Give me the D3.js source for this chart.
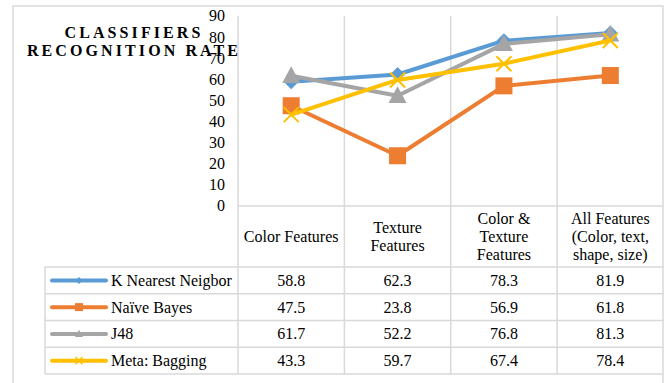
<!DOCTYPE html>
<html><head><meta charset="utf-8">
<script src="https://cdn.jsdelivr.net/npm/d3@7"></script>
<style>
html,body{margin:0;padding:0;background:#fff;}
svg{display:block;font-family:"Liberation Serif","Times New Roman",serif;}
</style></head>
<body><svg id="c" width="666" height="383"></svg>
<script>
const categories = ["Color Features", "Texture Features", "Color & Texture Features", "All Features (Color, text, shape, size)"];
const categoryLines = [["Color Features"], ["Texture", "Features"], ["Color &", "Texture", "Features"], ["All Features", "(Color, text,", "shape, size)"]];
const seriesNames = ["K Nearest Neigbor", "Naïve Bayes", "J48", "Meta: Bagging"];
const knn = [58.8, 62.3, 78.3, 81.9];
const naiveBayes = [47.5, 23.8, 56.9, 61.8];
const j48 = [61.7, 52.2, 76.8, 81.3];
const metaBagging = [43.3, 59.7, 67.4, 78.4];
const seriesColors = ["#5B9BD5", "#ED7D31", "#A5A5A5", "#FFC000"];
const seriesMarkers = ["diamond", "square", "triangle", "x"];
const yTicks = [0, 10, 20, 30, 40, 50, 60, 70, 80, 90];
const titleLines = ["CLASSIFIERS", "RECOGNITION RATE"];

const series = [knn, naiveBayes, j48, metaBagging].map((v, i) => ({
  name: seriesNames[i], values: v, color: seriesColors[i], marker: seriesMarkers[i]
}));

const svg = d3.select("#c");
const grid = "#D9D9D9";
const plotL = 238, plotR = 663.5, plotT = 16, plotB = 206;
const headerB = 267, rowH = 26.75, tableL = 45;
const tableB = headerB + rowH * series.length;

const x = d3.scaleBand().domain(categories).range([plotL, plotR]).padding(0);
const y = d3.scaleLinear().domain([0, 90]).range([plotB, plotT]);

// outer frame
svg.append("path").attr("d", `M13,383 V6 H663 V383`).attr("fill", "none").attr("stroke", grid).attr("stroke-width", 1.5);

// vertical separators (axis + category boundaries)
const gL = svg.append("g").attr("stroke", grid).attr("stroke-width", 1.5);
categories.forEach((c, i) => {
  if (i === 0) gL.append("line").attr("x1", x(c)).attr("x2", x(c)).attr("y1", plotT).attr("y2", tableB);
  else gL.append("line").attr("x1", x(c)).attr("x2", x(c)).attr("y1", plotT).attr("y2", tableB);
});
gL.append("line").attr("x1", tableL).attr("x2", tableL).attr("y1", headerB).attr("y2", tableB);
// horizontal lines
gL.append("line").attr("x1", plotL).attr("x2", plotR).attr("y1", plotB).attr("y2", plotB);
for (let r = 0; r <= series.length; r++) {
  const yy = headerB + r * rowH;
  gL.append("line").attr("x1", tableL).attr("x2", plotR).attr("y1", yy).attr("y2", yy);
}

// y tick labels
svg.append("g").selectAll("text").data(yTicks).join("text")
  .attr("x", 225).attr("y", d => y(d)).attr("dy", "0.34em")
  .attr("text-anchor", "end").attr("font-size", 16).attr("fill", "#000").text(d => d);

// title
svg.append("g").selectAll("text").data(titleLines).join("text")
  .attr("x", 134).attr("y", (d, i) => 38 + i * 18)
  .attr("text-anchor", "middle").attr("font-size", 16).attr("font-weight", "bold")
  .attr("letter-spacing", 3.1).attr("fill", "#000").text(d => d);

// header text
categories.forEach((c, i) => {
  const lines = categoryLines[i];
  const cx = x(c) + x.bandwidth() / 2;
  const cy = (plotB + headerB) / 2;
  const lh = 17.6;
  lines.forEach((t, j) => {
    svg.append("text").attr("x", cx).attr("y", cy + (j - (lines.length - 1) / 2) * lh)
      .attr("dy", "0.34em").attr("text-anchor", "middle").attr("font-size", 16).attr("fill", "#000").text(t);
  });
});

function marker(g, type, cx, cy, s, color) {
  if (type === "diamond") {
    g.append("path").attr("d", `M${cx},${cy - s} L${cx + s},${cy} L${cx},${cy + s} L${cx - s},${cy} Z`).attr("fill", color);
  } else if (type === "square") {
    g.append("rect").attr("x", cx - s).attr("y", cy - s).attr("width", 2 * s).attr("height", 2 * s).attr("fill", color);
  } else if (type === "triangle") {
    g.append("path").attr("d", `M${cx},${cy - s * 1.05} L${cx + s},${cy + s * 0.8} L${cx - s},${cy + s * 0.8} Z`).attr("fill", color);
  } else {
    g.append("path").attr("d", `M${cx - s},${cy - s} L${cx + s},${cy + s} M${cx - s},${cy + s} L${cx + s},${cy - s}`)
      .attr("stroke", color).attr("stroke-width", s > 5 ? 2 : 1.5).attr("fill", "none");
  }
}

const markerSize = { diamond: 7.5, square: 8.5, triangle: 9, x: 7.5 };
const legendSize = { diamond: 3.5, square: 4, triangle: 4, x: 3.5 };

// lines and markers
const line = d3.line().x((d, i) => x(categories[i]) + x.bandwidth() / 2).y(d => y(d));
series.forEach(s => {
  const g = svg.append("g");
  g.append("path").attr("d", line(s.values)).attr("fill", "none").attr("stroke", s.color)
    .attr("stroke-width", 4).attr("stroke-linejoin", "round").attr("stroke-linecap", "round");
  s.values.forEach((v, i) => marker(g, s.marker, x(categories[i]) + x.bandwidth() / 2, y(v), markerSize[s.marker], s.color));
});

// table rows
series.forEach((s, r) => {
  const cy = headerB + r * rowH + rowH / 2;
  svg.append("line").attr("x1", 52).attr("x2", 106).attr("y1", cy).attr("y2", cy)
    .attr("stroke", s.color).attr("stroke-width", 4).attr("stroke-linecap", "round");
  marker(svg.append("g"), s.marker, 79, cy, legendSize[s.marker], s.color);
  svg.append("text").attr("x", 111).attr("y", cy).attr("dy", "0.34em").attr("font-size", 16).attr("fill", "#000").text(s.name);
  s.values.forEach((v, i) => {
    svg.append("text").attr("x", x(categories[i]) + x.bandwidth() / 2).attr("y", cy).attr("dy", "0.34em")
      .attr("text-anchor", "middle").attr("font-size", 16).attr("fill", "#000").text(v.toFixed(1));
  });
});
</script></body></html>
